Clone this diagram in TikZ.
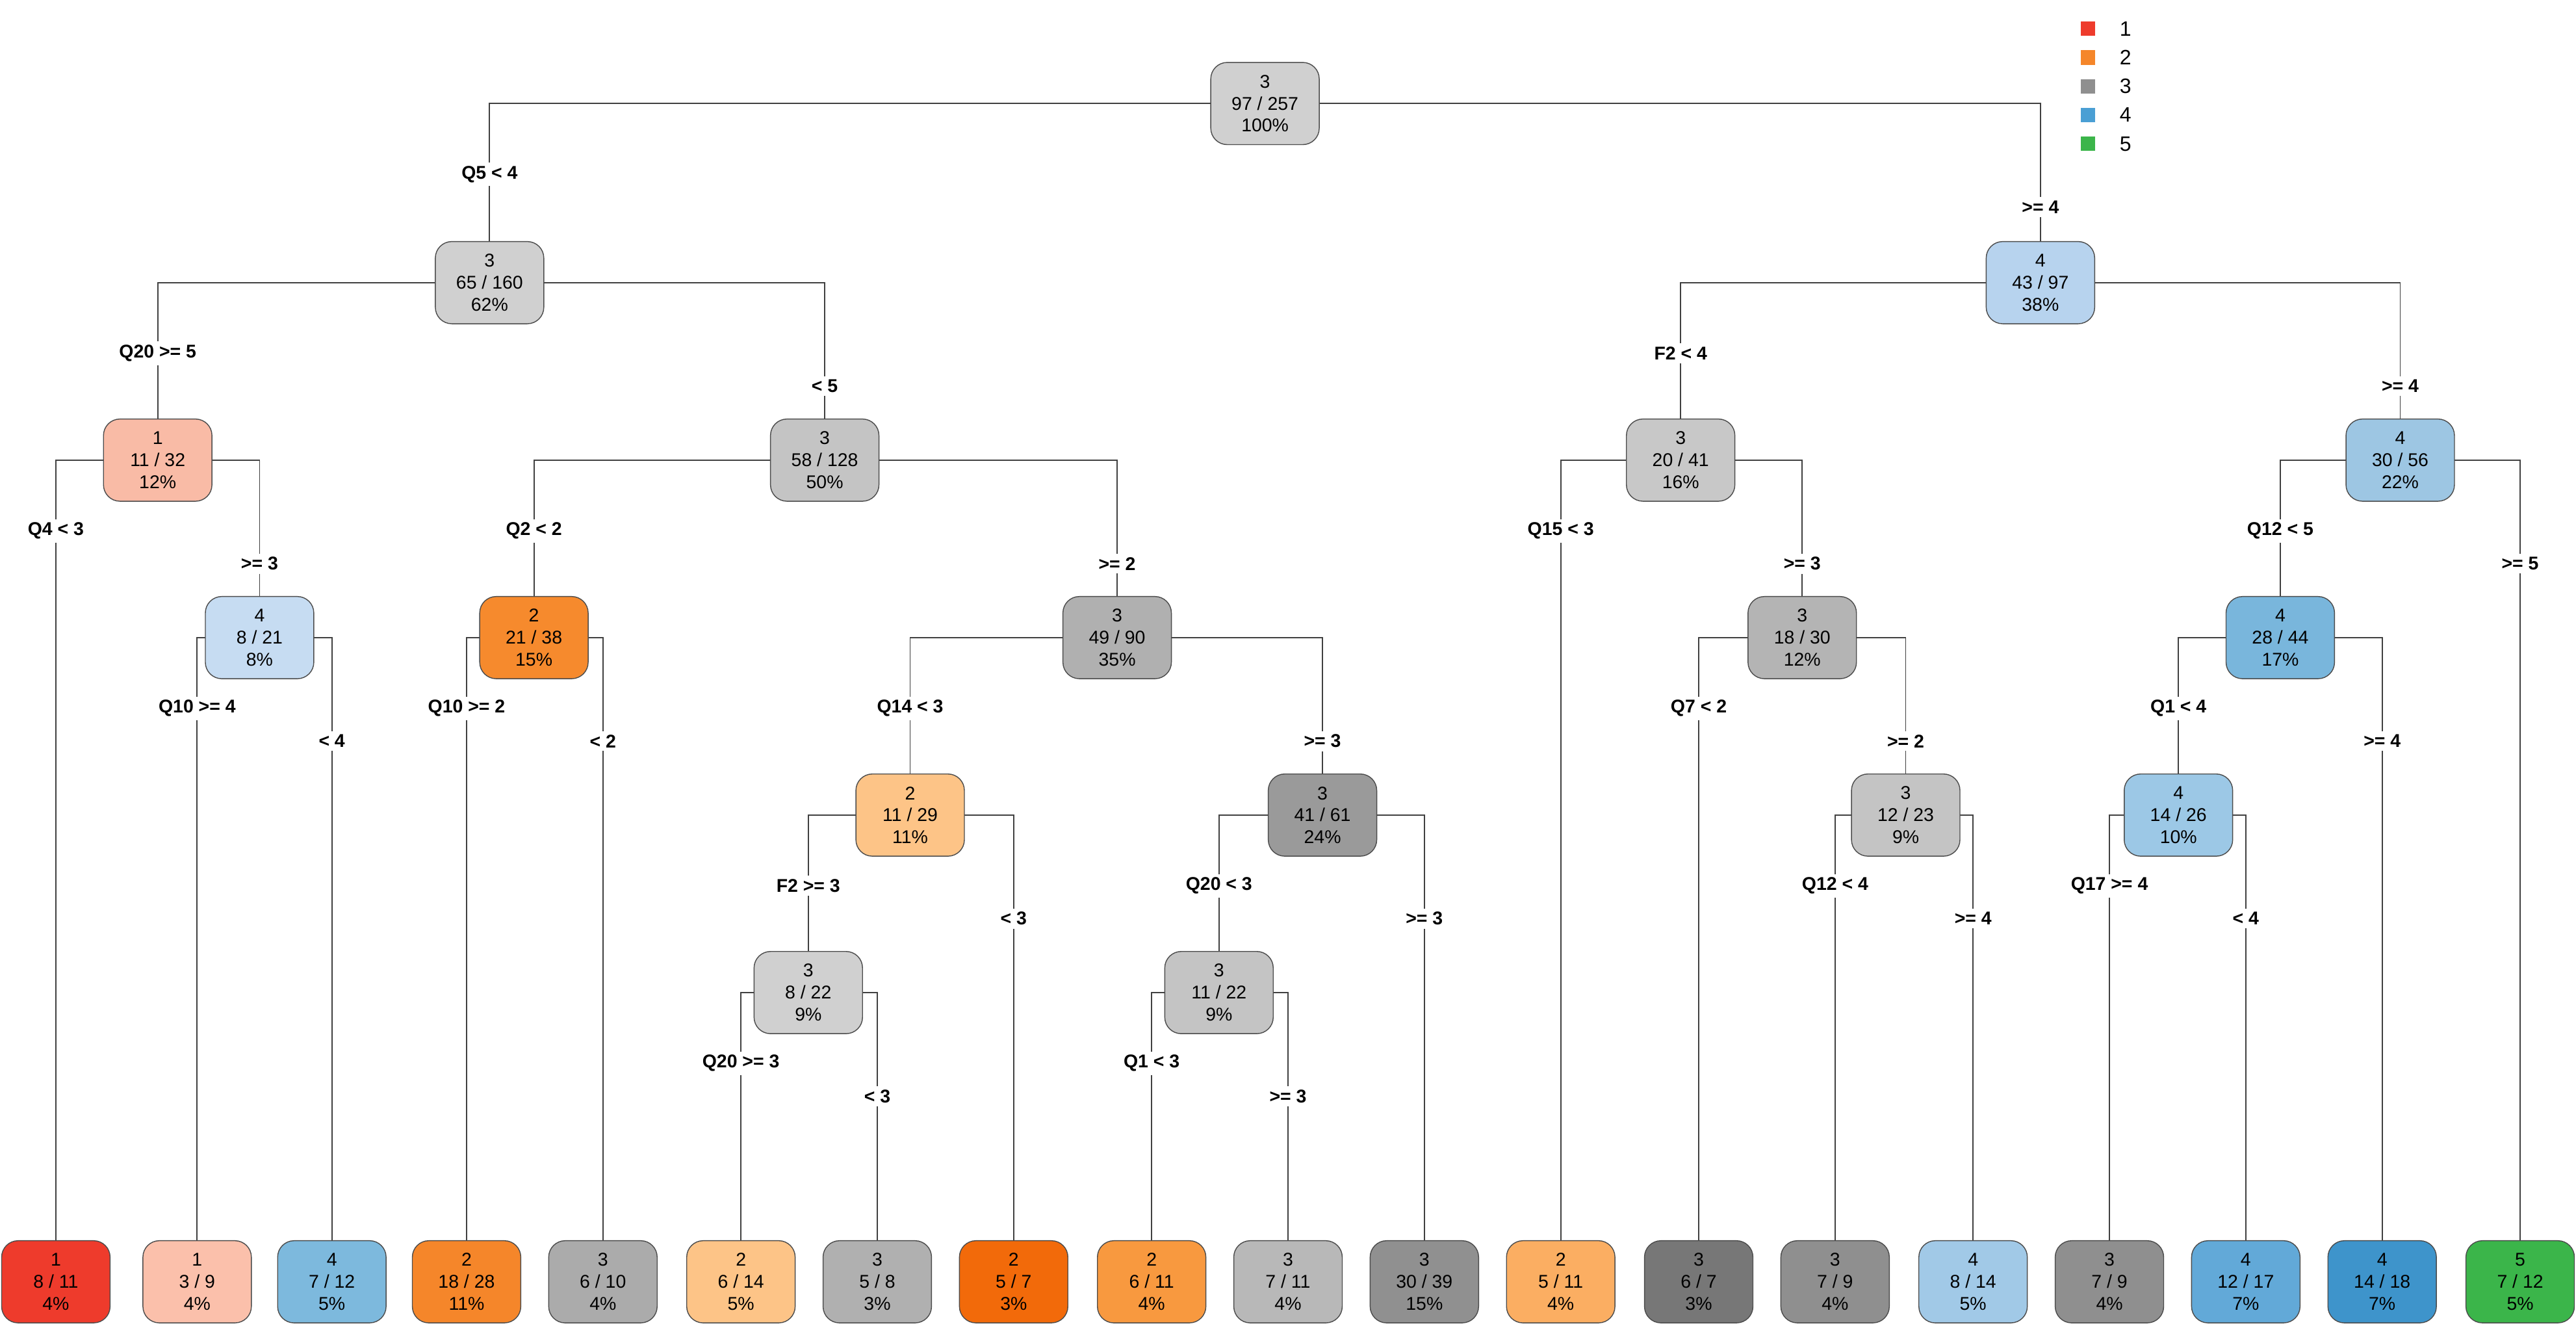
\documentclass[tikz,border=0pt]{standalone}
\usepackage{fontspec}
\setmainfont{Liberation Sans}
\usetikzlibrary{backgrounds}

\tikzset{
  leaf/.style={rectangle, rounded corners=0.25cm, draw=black!70, minimum width=1.65cm, minimum height=1.25cm, align=center, font=\fontsize{8}{9.5}\selectfont, inner sep=1pt},
  lbl/.style={fill=white, font=\fontsize{8}{9.5}\selectfont\bfseries, inner sep=1.5pt},
  edge/.style={draw=black!75, line width=0.5pt},
}
\newcommand{\tsplit}[5]{%
  \begin{scope}[on background layer]
    \draw[edge] (#2.north) |- (#1.center) -| (#3.north);
  \end{scope}
  \path (#2 |- #1) ++(0,43) node[lbl] {#4};
  \path (#3 |- #1) ++(0,63) node[lbl] {#5};
}

\begin{document}
\begin{tikzpicture}[x=0.025cm, y=-0.025cm]
  \useasboundingbox (0,0) rectangle (1568,816);
  % inner nodes
  \node (n1) [leaf, fill={rgb,255:red,208;green,208;blue,208}] at (770,63) {3\\97 / 257\\100\%};
  \node (n2) [leaf, fill={rgb,255:red,208;green,208;blue,208}] at (298,172) {3\\65 / 160\\62\%};
  \node (n3) [leaf, fill={rgb,255:red,183;green,211;blue,238}] at (1242,172) {4\\43 / 97\\38\%};
  \node (n4) [leaf, fill={rgb,255:red,249;green,187;blue,166}] at (96,280) {1\\11 / 32\\12\%};
  \node (n5) [leaf, fill={rgb,255:red,196;green,196;blue,196}] at (502,280) {3\\58 / 128\\50\%};
  \node (n6) [leaf, fill={rgb,255:red,200;green,200;blue,200}] at (1023,280) {3\\20 / 41\\16\%};
  \node (n7) [leaf, fill={rgb,255:red,157;green,198;blue,227}] at (1461,280) {4\\30 / 56\\22\%};
  \node (n8) [leaf, fill={rgb,255:red,198;green,220;blue,242}] at (158,388) {4\\8 / 21\\8\%};
  \node (n9) [leaf, fill={rgb,255:red,246;green,138;blue,45}] at (325,388) {2\\21 / 38\\15\%};
  \node (n10) [leaf, fill={rgb,255:red,176;green,176;blue,176}] at (680,388) {3\\49 / 90\\35\%};
  \node (n11) [leaf, fill={rgb,255:red,180;green,180;blue,180}] at (1097,388) {3\\18 / 30\\12\%};
  \node (n12) [leaf, fill={rgb,255:red,121;green,182;blue,220}] at (1388,388) {4\\28 / 44\\17\%};
  \node (n13) [leaf, fill={rgb,255:red,253;green,196;blue,135}] at (554,496) {2\\11 / 29\\11\%};
  \node (n14) [leaf, fill={rgb,255:red,154;green,154;blue,154}] at (805,496) {3\\41 / 61\\24\%};
  \node (n15) [leaf, fill={rgb,255:red,196;green,196;blue,196}] at (1160,496) {3\\12 / 23\\9\%};
  \node (n16) [leaf, fill={rgb,255:red,156;green,200;blue,230}] at (1326,496) {4\\14 / 26\\10\%};
  \node (n17) [leaf, fill={rgb,255:red,208;green,208;blue,208}] at (492,604) {3\\8 / 22\\9\%};
  \node (n18) [leaf, fill={rgb,255:red,196;green,196;blue,196}] at (742,604) {3\\11 / 22\\9\%};
  % leaves
  \node (l1) [leaf, fill={rgb,255:red,238;green,59;blue,44}] at (34,780) {1\\8 / 11\\4\%};
  \node (l2) [leaf, fill={rgb,255:red,251;green,192;blue,171}] at (120,780) {1\\3 / 9\\4\%};
  \node (l3) [leaf, fill={rgb,255:red,125;green,185;blue,221}] at (202,780) {4\\7 / 12\\5\%};
  \node (l4) [leaf, fill={rgb,255:red,245;green,134;blue,42}] at (284,780) {2\\18 / 28\\11\%};
  \node (l5) [leaf, fill={rgb,255:red,171;green,171;blue,171}] at (367,780) {3\\6 / 10\\4\%};
  \node (l6) [leaf, fill={rgb,255:red,253;green,196;blue,135}] at (451,780) {2\\6 / 14\\5\%};
  \node (l7) [leaf, fill={rgb,255:red,176;green,176;blue,176}] at (534,780) {3\\5 / 8\\3\%};
  \node (l8) [leaf, fill={rgb,255:red,242;green,106;blue,10}] at (617,780) {2\\5 / 7\\3\%};
  \node (l9) [leaf, fill={rgb,255:red,248;green,153;blue,63}] at (701,780) {2\\6 / 11\\4\%};
  \node (l10) [leaf, fill={rgb,255:red,184;green,184;blue,184}] at (784,780) {3\\7 / 11\\4\%};
  \node (l11) [leaf, fill={rgb,255:red,144;green,144;blue,144}] at (867,780) {3\\30 / 39\\15\%};
  \node (l12) [leaf, fill={rgb,255:red,251;green,174;blue,98}] at (950,780) {2\\5 / 11\\4\%};
  \node (l13) [leaf, fill={rgb,255:red,119;green,119;blue,119}] at (1034,780) {3\\6 / 7\\3\%};
  \node (l14) [leaf, fill={rgb,255:red,143;green,143;blue,143}] at (1117,780) {3\\7 / 9\\4\%};
  \node (l15) [leaf, fill={rgb,255:red,161;green,201;blue,231}] at (1201,780) {4\\8 / 14\\5\%};
  \node (l16) [leaf, fill={rgb,255:red,143;green,143;blue,143}] at (1284,780) {3\\7 / 9\\4\%};
  \node (l17) [leaf, fill={rgb,255:red,98;green,169;blue,216}] at (1367,780) {4\\12 / 17\\7\%};
  \node (l18) [leaf, fill={rgb,255:red,62;green,148;blue,203}] at (1450,780) {4\\14 / 18\\7\%};
  \node (l19) [leaf, fill={rgb,255:red,59;green,181;blue,74}] at (1534,780) {5\\7 / 12\\5\%};

  % splits
  \tsplit{n1}{n2}{n3}{Q5 < 4}{>= 4}
  \tsplit{n2}{n4}{n5}{Q20 >= 5}{< 5}
  \tsplit{n3}{n6}{n7}{F2 < 4}{>= 4}
  \tsplit{n4}{l1}{n8}{Q4 < 3}{>= 3}
  \tsplit{n8}{l2}{l3}{Q10 >= 4}{< 4}
  \tsplit{n5}{n9}{n10}{Q2 < 2}{>= 2}
  \tsplit{n9}{l4}{l5}{Q10 >= 2}{< 2}
  \tsplit{n10}{n13}{n14}{Q14 < 3}{>= 3}
  \tsplit{n13}{n17}{l8}{F2 >= 3}{< 3}
  \tsplit{n17}{l6}{l7}{Q20 >= 3}{< 3}
  \tsplit{n14}{n18}{l11}{Q20 < 3}{>= 3}
  \tsplit{n18}{l9}{l10}{Q1 < 3}{>= 3}
  \tsplit{n6}{l12}{n11}{Q15 < 3}{>= 3}
  \tsplit{n11}{l13}{n15}{Q7 < 2}{>= 2}
  \tsplit{n15}{l14}{l15}{Q12 < 4}{>= 4}
  \tsplit{n7}{n12}{l19}{Q12 < 5}{>= 5}
  \tsplit{n12}{n16}{l18}{Q1 < 4}{>= 4}
  \tsplit{n16}{l16}{l17}{Q17 >= 4}{< 4}

  % legend
  \foreach \c/\t [count=\i] in {{rgb,255:red,238;green,59;blue,44}/1, {rgb,255:red,245;green,134;blue,42}/2, {rgb,255:red,143;green,143;blue,143}/3, {rgb,255:red,74;green,159;blue,212}/4, {rgb,255:red,59;green,181;blue,74}/5} {
    \node (key\i) [fill={\c}, minimum size=0.22cm, inner sep=0pt] at (1271,{17.5*\i}) {};
    \node (keytext\i) [anchor=west, font=\fontsize{9}{10}\selectfont, inner sep=0pt] at (1290,{17.5*\i}) {\t};
  }
\end{tikzpicture}
\end{document}
